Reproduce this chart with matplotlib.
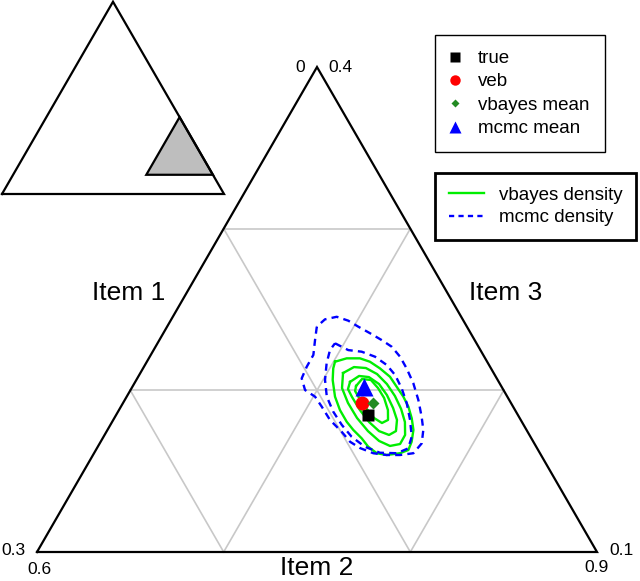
"""Zoomed ternary plot of the item composition: point estimates and
posterior density contours (vbayes vs mcmc), with an inset locating the
zoom window inside the full simplex."""

import matplotlib

matplotlib.use("Agg")
import matplotlib.pyplot as plt
import numpy as np
from matplotlib.lines import Line2D

plt.rcParams["font.family"] = ["Liberation Sans", "DejaVu Sans"]

SQ3 = np.sqrt(3.0) / 2.0

# zoom window: item1 >= 0, item2 >= 0.6, item3 >= 0.1 (side 0.3)
ITEM2_MIN = 0.6
ITEM3_MIN = 0.1
SPAN = 0.3

# (item1, item2, item3)
true_pt = (0.080, 0.735, 0.185)
veb_pt = (0.080, 0.728, 0.192)
vbayes_mean = (0.074, 0.734, 0.192)
mcmc_mean = (0.075, 0.724, 0.202)

# density contours, as (item2, item3) pairs
vbayes_contours = [
    [(0.7008, 0.2177), (0.7060, 0.2198), (0.7131, 0.2198), (0.7195, 0.2177),
     (0.7269, 0.2136), (0.7349, 0.2084), (0.7416, 0.2022), (0.7482, 0.1961),
     (0.7540, 0.1899), (0.7594, 0.1827), (0.7639, 0.1755), (0.7666, 0.1682),
     (0.7674, 0.1631), (0.7639, 0.1611), (0.7573, 0.1600), (0.7515, 0.1611),
     (0.7449, 0.1651), (0.7388, 0.1703), (0.7317, 0.1755), (0.7256, 0.1806),
     (0.7184, 0.1878), (0.7116, 0.1961), (0.7052, 0.2064), (0.7019, 0.2136)],
    [(0.7086, 0.2107), (0.7126, 0.2144), (0.7193, 0.2138), (0.7271, 0.2101),
     (0.7355, 0.2039), (0.7435, 0.1965), (0.7508, 0.1885), (0.7569, 0.1804),
     (0.7610, 0.1724), (0.7611, 0.1668), (0.7563, 0.1656), (0.7489, 0.1687),
     (0.7399, 0.1748), (0.7300, 0.1829), (0.7205, 0.1922), (0.7127, 0.2014)],
    [(0.7151, 0.2052), (0.7181, 0.2089), (0.7237, 0.2082), (0.7313, 0.2039),
     (0.7389, 0.1971), (0.7462, 0.1891), (0.7520, 0.1817), (0.7549, 0.1748),
     (0.7524, 0.1724), (0.7458, 0.1748), (0.7377, 0.1804), (0.7291, 0.1878),
     (0.7208, 0.1959), (0.7162, 0.2008)],
    [(0.7196, 0.2027), (0.7206, 0.2070), (0.7257, 0.2064), (0.7320, 0.2014),
     (0.7383, 0.1953), (0.7441, 0.1878), (0.7472, 0.1817), (0.7449, 0.1798),
     (0.7391, 0.1829), (0.7317, 0.1891), (0.7249, 0.1953), (0.7206, 0.1996)],
]
mcmc_contours = [
    [(0.6802, 0.2394), (0.6834, 0.2311), (0.6871, 0.2219), (0.6872, 0.2146),
     (0.6881, 0.2074), (0.6935, 0.2002), (0.7009, 0.1961), (0.7076, 0.1899),
     (0.7161, 0.1817), (0.7260, 0.1744), (0.7336, 0.1682), (0.7409, 0.1643),
     (0.7496, 0.1611), (0.7573, 0.1600), (0.7645, 0.1600), (0.7711, 0.1611),
     (0.7725, 0.1672), (0.7692, 0.1755), (0.7642, 0.1837), (0.7573, 0.1940),
     (0.7494, 0.2044), (0.7412, 0.2136), (0.7341, 0.2208), (0.7265, 0.2270),
     (0.7191, 0.2311), (0.7108, 0.2353), (0.7024, 0.2394), (0.6952, 0.2431),
     (0.6878, 0.2455), (0.6823, 0.2439)],
    [(0.6951, 0.2291), (0.7043, 0.2249), (0.7120, 0.2239), (0.7207, 0.2208),
     (0.7295, 0.2157), (0.7371, 0.2095), (0.7447, 0.2013), (0.7521, 0.1920),
     (0.7590, 0.1817), (0.7651, 0.1713), (0.7668, 0.1641), (0.7622, 0.1611),
     (0.7530, 0.1614), (0.7431, 0.1651), (0.7329, 0.1713), (0.7240, 0.1786),
     (0.7153, 0.1868), (0.7072, 0.1961), (0.7011, 0.2064), (0.6968, 0.2167),
     (0.6945, 0.2249)],
]

corner_labels = {"top": ("0", "0.4"), "left": ("0.3", "0.6"), "right": ("0.9", "0.1")}
axis_names = ["Item 1", "Item 2", "Item 3"]
point_labels = ["true", "veb", "vbayes mean", "mcmc mean"]
density_labels = ["vbayes density", "mcmc density"]

GRID = "#c8c8c8"
GREEN = "#00ee00"
BLUE = "#0000ff"


def zoom_xy(item2, item3):
    a = (np.asarray(item2) - ITEM2_MIN) / SPAN
    c = (np.asarray(item3) - ITEM3_MIN) / SPAN
    return a + c / 2.0, c * SQ3


def full_xy(item2, item3):
    item2, item3 = np.asarray(item2), np.asarray(item3)
    return item2 + item3 / 2.0, item3 * SQ3


fig = plt.figure(figsize=(6.4, 5.81), dpi=100)
ax = fig.add_axes([0, 0, 1, 1])
ax.set_xlim(-37 / 560, 603 / 560)
ax.set_ylim(-29 / 560, 552 / 560)
ax.axis("off")

# grid at 1/3 and 2/3 of the window
for k in (1 / 3, 2 / 3):
    v = SPAN * k
    segs = [
        ([ITEM2_MIN, ITEM2_MIN + SPAN - v], [ITEM3_MIN + v, ITEM3_MIN + v]),
        ([ITEM2_MIN + v, ITEM2_MIN + v], [ITEM3_MIN, ITEM3_MIN + SPAN - v]),
        ([ITEM2_MIN + SPAN - v, ITEM2_MIN], [ITEM3_MIN, ITEM3_MIN + SPAN - v]),
    ]
    for i2, i3 in segs:
        x, y = zoom_xy(i2, i3)
        ax.plot(x, y, color=GRID, lw=1.2, zorder=1)

corners2 = [ITEM2_MIN, ITEM2_MIN + SPAN, ITEM2_MIN, ITEM2_MIN]
corners3 = [ITEM3_MIN, ITEM3_MIN, ITEM3_MIN + SPAN, ITEM3_MIN]
x, y = zoom_xy(corners2, corners3)
ax.plot(x, y, color="black", lw=1.6, solid_joinstyle="miter", zorder=2)

# corner range labels
bl, br, top = (x[0], y[0]), (x[1], y[1]), (x[2], y[2])
lab_kw = dict(textcoords="offset points", fontsize=12.5)
ax.annotate(corner_labels["top"][0], top, xytext=(-9, -0.5), ha="right", va="center", **lab_kw)
ax.annotate(corner_labels["top"][1], top, xytext=(8.5, -0.5), ha="left", va="center", **lab_kw)
ax.annotate(corner_labels["left"][0], bl, xytext=(-8, 1), ha="right", va="center", **lab_kw)
ax.annotate(corner_labels["left"][1], bl, xytext=(2, -12.5), ha="center", va="center", **lab_kw)
ax.annotate(corner_labels["right"][0], br, xytext=(0, -11.5), ha="center", va="center", **lab_kw)
ax.annotate(corner_labels["right"][1], br, xytext=(9, 1), ha="left", va="center", **lab_kw)

# edge names
name_kw = dict(textcoords="offset points", fontsize=19, ha="center", va="center")
ax.annotate(axis_names[0], ((bl[0] + top[0]) / 2, (bl[1] + top[1]) / 2), xytext=(-35, 12), **name_kw)
ax.annotate(axis_names[1], ((bl[0] + br[0]) / 2, bl[1]), xytext=(0, -11.5), **name_kw)
ax.annotate(axis_names[2], ((br[0] + top[0]) / 2, (br[1] + top[1]) / 2), xytext=(35, 12), **name_kw)

for ring in vbayes_contours:
    i2, i3 = zip(*(ring + ring[:1]))
    cx, cy = zoom_xy(i2, i3)
    ax.plot(cx, cy, color=GREEN, lw=1.7, zorder=3)
for ring in mcmc_contours:
    i2, i3 = zip(*(ring + ring[:1]))
    cx, cy = zoom_xy(i2, i3)
    ax.plot(cx, cy, color=BLUE, lw=1.7, dashes=(3, 2.2), zorder=3)

styles = [
    dict(marker="s", color="black", ms=9),
    dict(marker="o", color="red", ms=10),
    dict(marker="D", color="#228b22", ms=6.5),
    dict(marker="^", color="blue", ms=12.5),
]
for pt, st in zip([true_pt, veb_pt, vbayes_mean, mcmc_mean], styles):
    px, py = zoom_xy(pt[1], pt[2])
    ax.plot([px], [py], ls="none", mec="none", zorder=4, **st)

# legends
leg_kw = dict(loc="upper left", bbox_transform=fig.transFigure, borderaxespad=0,
              fancybox=False, edgecolor="black", framealpha=1, fontsize=13.5)
handles = [
    Line2D([], [], ls="none", marker="s", color="black", ms=6.5, mec="none"),
    Line2D([], [], ls="none", marker="o", color="red", ms=7.5, mec="none"),
    Line2D([], [], ls="none", marker="D", color="#228b22", ms=4.3, mec="none"),
    Line2D([], [], ls="none", marker="^", color="blue", ms=9, mec="none"),
]
leg1 = ax.legend(handles, point_labels, bbox_to_anchor=(435 / 640, 1 - 35 / 581),
                 borderpad=0.8, handlelength=0.5, handletextpad=1.0,
                 labelspacing=0.33, **leg_kw)
leg1.get_frame().set_linewidth(1.0)
ax.add_artist(leg1)

dens_handles = [
    Line2D([], [], color=GREEN, lw=1.7),
    Line2D([], [], color=BLUE, lw=1.7, dashes=(2.2, 1.8)),
]
leg2 = ax.legend(dens_handles, density_labels, bbox_to_anchor=(435 / 640, 1 - 173 / 581),
                 borderpad=0.72, handlelength=1.9, handletextpad=0.8,
                 labelspacing=0.3, **leg_kw)
leg2.get_frame().set_linewidth(2.0)

# inset: zoom window inside the full simplex
ins = fig.add_axes([0, 1 - 200 / 581, 230 / 640, 200 / 581])
ins.set_xlim(-2 / 222, 228 / 222)
ins.set_ylim(-6 / 222, 194 / 222)
ins.axis("off")
fx, fy = full_xy([0, 1, 0, 0], [0, 0, 1, 0])
ins.plot(fx, fy, color="black", lw=1.6, solid_joinstyle="miter")
wx, wy = full_xy(corners2, corners3)
ins.fill(wx, wy, facecolor="#bebebe", edgecolor="black", lw=1.6, joinstyle="miter")

fig.savefig("out.png", dpi=100)
